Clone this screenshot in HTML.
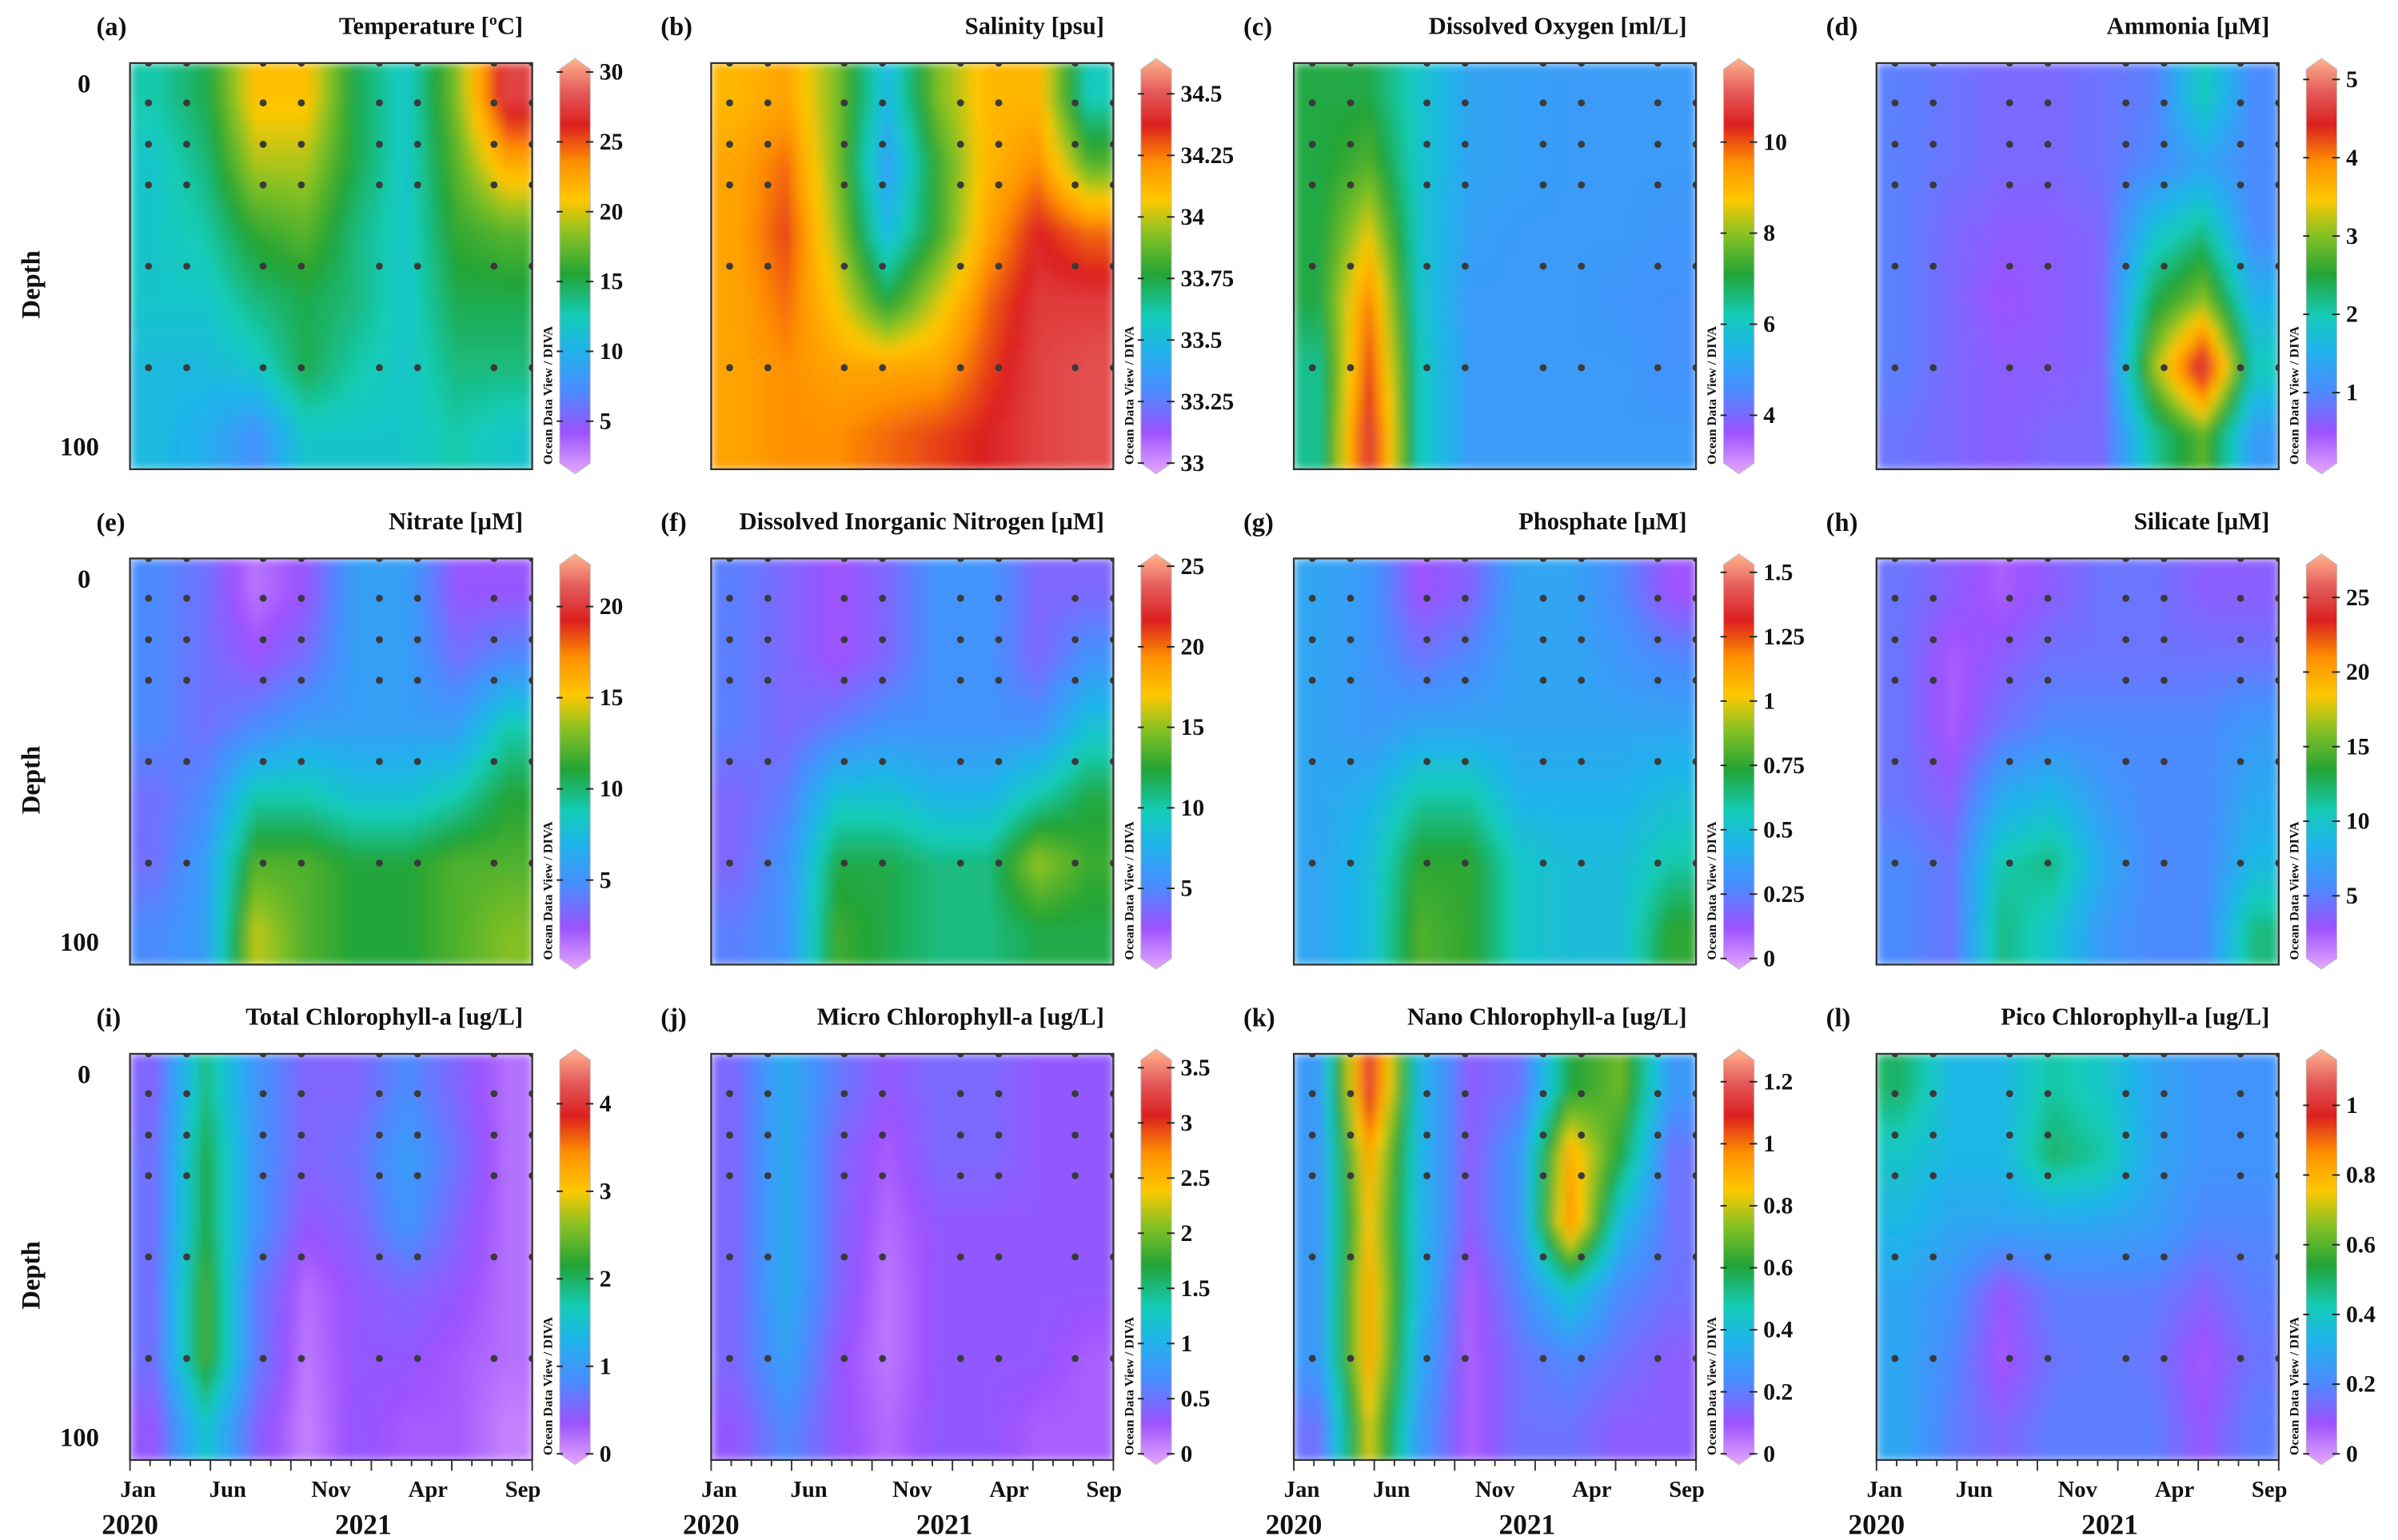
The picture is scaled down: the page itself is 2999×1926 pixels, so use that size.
<!DOCTYPE html>
<html><head><meta charset="utf-8">
<style>
html,body{margin:0;padding:0;background:#fff;}
svg{display:block;}
text{font-family:"Liberation Serif",serif;font-weight:bold;fill:#111;}
</style></head>
<body>
<svg id="fig" width="2999" height="1926" viewBox="0 0 1568 1001" preserveAspectRatio="none" xmlns="http://www.w3.org/2000/svg">
<defs>
<filter id="sm" x="0" y="0" width="1" height="1"><feGaussianBlur stdDeviation="3" edgeMode="duplicate"/></filter>
</defs>
</svg>
<script>
// ---- data (columns = time, rows = depth top->bottom) ----
const tempValues=[[13,15,21,21,15,12,18,27],[12,14,19,19,15,12,17,22],[12,13,16,17,14,12,16,17],[12,12,14,15,14,12,15,15],[11,11,12,15,13,12,14,14],[11,10,8,12,12,12,13,12]];
const salValues=[[34.1,34.15,33.9,33.5,33.9,34.1,34.1,33.6],[34.15,34.25,33.9,33.4,33.8,34.1,34.2,33.85],[34.15,34.3,33.95,33.5,33.8,34.15,34.35,34.25],[34.15,34.25,34.05,33.75,34.0,34.25,34.4,34.4],[34.15,34.2,34.15,34.15,34.15,34.3,34.42,34.45],[34.15,34.2,34.2,34.25,34.3,34.35,34.42,34.45]];
const doValues=[[7,7,6,5.2,5.1,5,5,5],[7,7.5,6,5.2,5.1,5,5,5],[7,8.5,6,5.1,5,5,5,4.9],[7,9.5,6,5,5,5,4.9,4.8],[6.5,10,6.2,5,5,5,5,4.8],[6.5,10.5,6.2,5,5,5,5,5]];
const nh4Values=[[1.0,0.9,0.8,0.8,0.9,1.0,2,1.1],[1.0,0.9,0.8,0.8,0.9,1.1,1.4,1.1],[1.0,0.8,0.7,0.7,0.8,1.8,2.2,1.1],[1.0,0.8,0.6,0.7,0.8,2.4,3,1.6],[1.0,0.8,0.7,0.7,0.8,3,4.6,2],[0.9,0.8,0.7,0.8,0.8,2.1,2.8,1.3]];
const no3Values=[[5,4,2,3,6,6,3,3],[5,4,3,4,6,6,4,5],[5,4,5,6,6,6,6,9],[4,5,9,9,8,8,9,11],[4,6,12,12,11,11,12,12],[5,6,14,12,11,11,12,13]];
const dinValues=[[5,4,3,4,6,6,4,4],[5,4,3,4,6,6,4,6],[5,4,5,6,6,6,6,9],[4,5,9,9,8,8,10,12],[4,6,12,12,11,11,15,13],[5,6,13,12,11,11,12,12]];
const po4Values=[[0.4,0.35,0.15,0.2,0.4,0.4,0.3,0.15],[0.4,0.35,0.25,0.3,0.4,0.4,0.35,0.3],[0.4,0.35,0.4,0.4,0.4,0.4,0.4,0.4],[0.4,0.45,0.6,0.6,0.45,0.45,0.45,0.5],[0.4,0.5,0.75,0.75,0.55,0.5,0.5,0.6],[0.4,0.5,0.8,0.75,0.55,0.5,0.5,0.75]];
const sio4Values=[[5,4,3,4,5,5,4,4],[5,3,4,5,5,5,5,5],[5,3,5,6,6,6,6,7],[5,4,8,9,7,6,6,8],[6,5,11,12,8,6,6,9],[6,5,12,10,7,6,6,12]];
const tchlValues=[[0.6,1.9,1.0,0.6,0.6,0.9,0.6,0.3],[0.7,2.1,1.0,0.6,0.7,1.1,0.7,0.3],[0.7,2.1,1.0,0.5,0.6,1.0,0.6,0.3],[0.7,2.3,0.8,0.3,0.5,0.6,0.5,0.3],[0.7,2.3,0.8,0.25,0.5,0.5,0.4,0.3],[0.5,1.6,0.6,0.2,0.5,0.4,0.4,0.2]];
const microValues=[[0.5,1.0,0.6,0.4,0.5,0.5,0.4,0.4],[0.5,1.0,0.5,0.3,0.5,0.5,0.4,0.4],[0.5,1.0,0.5,0.25,0.4,0.4,0.4,0.4],[0.5,1.0,0.5,0.2,0.4,0.4,0.4,0.4],[0.5,0.9,0.4,0.2,0.4,0.4,0.4,0.3],[0.4,0.7,0.4,0.25,0.4,0.4,0.3,0.3]];
const nanoValues=[[0.3,1.1,0.4,0.15,0.2,0.6,0.7,0.3],[0.3,0.9,0.4,0.15,0.3,0.9,0.6,0.2],[0.3,0.85,0.4,0.15,0.3,0.95,0.4,0.2],[0.3,0.9,0.4,0.1,0.25,0.45,0.25,0.2],[0.3,0.9,0.35,0.1,0.2,0.25,0.2,0.15],[0.2,0.8,0.3,0.1,0.2,0.2,0.15,0.15]];
const picoValues=[[0.5,0.35,0.35,0.45,0.4,0.3,0.25,0.25],[0.4,0.35,0.35,0.5,0.45,0.3,0.25,0.25],[0.35,0.3,0.3,0.3,0.3,0.28,0.22,0.22],[0.3,0.25,0.12,0.2,0.2,0.2,0.15,0.2],[0.3,0.22,0.1,0.18,0.2,0.18,0.1,0.18],[0.3,0.2,0.15,0.2,0.2,0.2,0.12,0.2]];

const panelTitles=["Temperature [ºC]","Salinity [psu]","Dissolved Oxygen [ml/L]","Ammonia [µM]","Nitrate [µM]","Dissolved Inorganic Nitrogen [µM]","Phosphate [µM]","Silicate [µM]","Total Chlorophyll-a [ug/L]","Micro Chlorophyll-a [ug/L]","Nano Chlorophyll-a [ug/L]","Pico Chlorophyll-a [ug/L]"];
const panelLetters=["(a)","(b)","(c)","(d)","(e)","(f)","(g)","(h)","(i)","(j)","(k)","(l)"];
const panelValues=[tempValues,salValues,doValues,nh4Values,no3Values,dinValues,po4Values,sio4Values,tchlValues,microValues,nanoValues,picoValues];
const rangeMin=[2,33,2.95,0.1,0.7,0.65,0,0.8,0,0,0,0];
const rangeMax=[30.2,34.6,11.6,5.13,22.3,25.1,1.53,27.2,4.5,3.57,1.27,1.13];
const colorbarTicks=[[5,10,15,20,25,30],[33,33.25,33.5,33.75,34,34.25,34.5],[4,6,8,10],[1,2,3,4,5],[5,10,15,20],[5,10,15,20,25],[0,0.25,0.5,0.75,1,1.25,1.5],[5,10,15,20,25],[0,1,2,3,4],[0,0.5,1,1.5,2,2.5,3,3.5],[0,0.2,0.4,0.6,0.8,1,1.2],[0,0.2,0.4,0.6,0.8,1]];
const stationTimes=[0.046,0.141,0.331,0.426,0.62,0.715,0.905,1.0];
const stationDepths=[0,0.098,0.2,0.3,0.5,0.75];
const monthLabels=["Jan","Jun","Nov","Apr","Sep"];
const monthPos=[0.02,0.243,0.5,0.741,0.977];
const yearLabels=["2020","2021"];
const yearPos=[0.0,0.58];

// ---- layout ----
const NS="http://www.w3.org/2000/svg";
const svg=document.getElementById('fig');
const defs=svg.querySelector('defs');
const colX=[85,465,846,1227], rowY=[41,363,685], PW=263, PH=264;
const cmap=[[0,"#e4a8ff"],[0.1,"#9c52ff"],[0.2,"#4a8cff"],[0.3,"#1fb4ea"],[0.38,"#14ccb8"],[0.48,"#22a436"],[0.58,"#8cc222"],[0.66,"#ffc800"],[0.75,"#ff9000"],[0.84,"#dc2020"],[0.92,"#e45a5a"],[1,"#ffb48e"]];
function hex(h){return [parseInt(h.substr(1,2),16),parseInt(h.substr(3,2),16),parseInt(h.substr(5,2),16)];}
function color(t){t=Math.max(0,Math.min(1,t));for(let i=1;i<cmap.length;i++){if(t<=cmap[i][0]){const a=cmap[i-1],b=cmap[i];const f=(t-a[0])/(b[0]-a[0]);const A=hex(a[1]),B=hex(b[1]);return "rgb("+A.map((v,k)=>Math.round(v+(B[k]-v)*f)).join(",")+")";}}return cmap[cmap.length-1][1];}
function el(tag,attrs,parent){const e=document.createElementNS(NS,tag);for(const k in attrs)e.setAttribute(k,attrs[k]);(parent||svg).appendChild(e);return e;}
function txt(s,attrs,parent){const e=el('text',attrs,parent);e.textContent=s;return e;}
function sample(vals,fx,fy){const nc=vals[0].length,nr=vals.length;let cx=fx*nc-0.5,cy=fy*nr-0.5;cx=Math.max(0,Math.min(nc-1,cx));cy=Math.max(0,Math.min(nr-1,cy));const i0=Math.floor(cx),j0=Math.floor(cy),i1=Math.min(nc-1,i0+1),j1=Math.min(nr-1,j0+1);const u=cx-i0,v=cy-j0;
 return (vals[j0][i0]*(1-u)+vals[j0][i1]*u)*(1-v)+(vals[j1][i0]*(1-u)+vals[j1][i1]*u)*v;}

for(let p=0;p<12;p++){
 const c=p%4,r=Math.floor(p/4),x0=colX[c],y0=rowY[r];
 const vals=panelValues[p],mn=rangeMin[p],mx=rangeMax[p];
 const g=el('g',{});
 
 
 const clip=el('clipPath',{id:'clip'+p},defs);el('rect',{x:x0,y:y0,width:PW,height:PH},clip);
 const hm=el('g',{'clip-path':'url(#clip'+p+')'},g);
 
 
 const inner=el('g',{filter:'url(#sm)'},hm);
 const NX=40,NY=40;
 for(let i=0;i<NX;i++)for(let j=0;j<NY;j++){
  const v=sample(vals,(i+0.5)/NX,(j+0.5)/NY);
  const cell=el('rect',{x:x0+i*PW/NX,y:y0+j*PH/NY,width:PW/NX+0.6,height:PH/NY+0.6,fill:color((v-mn)/(mx-mn))},inner);
  
  
 }
 for(const st of stationTimes)for(const sd of stationDepths){
  const d=el('circle',{cx:x0+st*PW,cy:y0+sd*PH,r:2.3,fill:'#3a3a3a'},hm);
  
  
 }
 const fr=el('rect',{x:x0,y:y0,width:PW,height:PH,fill:'none',stroke:'#333','stroke-width':1.2},g);
 
 
 const t=txt(panelTitles[p],{x:x0+PW-6,y:y0-19,'text-anchor':'end','font-size':16},g);
 
 
 const l=txt(panelLetters[p],{x:x0-(c==0?22:33),y:y0-18,'font-size':17},g);
 
 
 const bx=x0+PW+18,bw=20,bt=y0+4,bb=y0+PH-4;
 const gid='cb'+p;const lg=el('linearGradient',{id:gid,x1:0,y1:1,x2:0,y2:0},defs);
 for(const s of cmap)el('stop',{offset:s[0],'stop-color':s[1]},lg);
 const cb=el('path',{d:`M${bx},${bt} L${bx+bw/2},${bt-7} L${bx+bw},${bt} L${bx+bw},${bb} L${bx+bw/2},${bb+7} L${bx},${bb} Z`,fill:'url(#'+gid+')',stroke:'#bbb','stroke-width':0.5},g);
 
 
 for(const tv of colorbarTicks[p]){
  const ty=bb-(tv-mn)/(mx-mn)*(bb-bt);
  el('line',{x1:bx+bw-3,x2:bx+bw+2,y1:ty,y2:ty,stroke:'#222','stroke-width':1},g);
  el('line',{x1:bx-2,x2:bx+2,y1:ty,y2:ty,stroke:'#222','stroke-width':1},g);
  const tl=txt(String(tv),{x:bx+bw+6,y:ty+5,'font-size':15.5},g);
  
  
 }
 const ov=txt('Ocean Data View / DIVA',{x:0,y:0,'font-size':8.5,transform:`translate(${x0+PW+13},${y0+PH-3}) rotate(-90)`},g);
 
 
 if(c==0){
  const z=txt('0',{x:55,y:y0+19,'text-anchor':'middle','font-size':17},g);
  
  
  const h=txt('100',{x:52,y:y0+255,'text-anchor':'middle','font-size':17},g);
  
  
  const dl=txt('Depth',{x:0,y:0,'text-anchor':'middle','font-size':17,transform:`translate(26,${y0+PH/2+12}) rotate(-90)`},g);
  
  
 }
 if(r==2){
  for(let k=0;k<=20;k++){el('line',{x1:x0+k*PW/20,x2:x0+k*PW/20,y1:y0+PH,y2:y0+PH+(k%4==0?7:4),stroke:'#333','stroke-width':1},g);}
  monthLabels.forEach((m,k)=>{const ml=txt(m,{x:x0+monthPos[k]*PW,y:y0+PH+24,'text-anchor':'middle','font-size':15},g);
   
   });
  yearLabels.forEach((yv,k)=>{const yl=txt(yv,{x:x0+yearPos[k]*PW,y:y0+PH+48,'text-anchor':'middle','font-size':18.5},g);
   
   });
 }
}
</script>
</body></html>
